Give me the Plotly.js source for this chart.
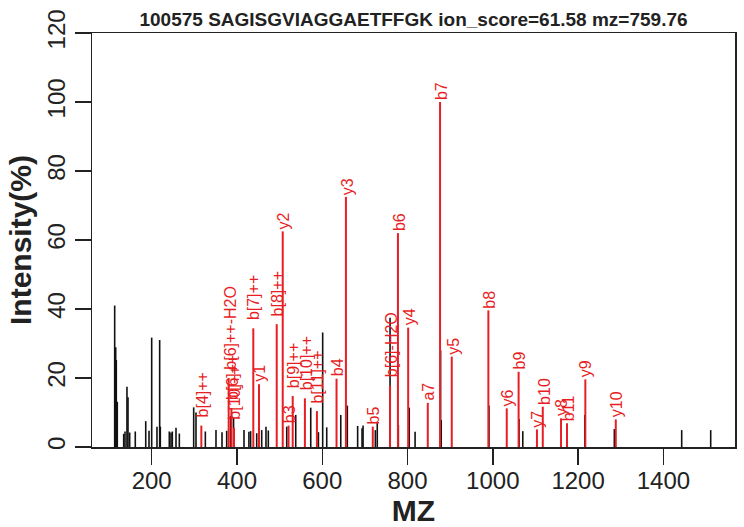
<!DOCTYPE html>
<html>
<head>
<meta charset="utf-8">
<script src="https://cdn.plot.ly/plotly-3.0.1.min.js"></script>
<style>html,body{margin:0;padding:0;background:#fff;}#chart{width:744px;height:527px;}</style>
</head>
<body>
<div id="chart"></div>
<script>
// Unmatched peaks (black)
const mzOther = [113.2,115.6,117.0,119.3,134.3,137.4,142.0,144.4,148.4,161.5,186.0,193.7,200.0,212.4,218.7,220.2,
  241.3,245.3,248.4,257.0,264.8,298.5,303.9,325.8,350.8,364.9,375.9,385.0,392.0,416.5,428.0,432.0,446.3,458.0,
  468.0,473.5,516.7,537.8,573.0,591.0,601.0,610.5,643.4,658.8,683.0,693.3,695.7,724.5,729.0,759.0,778.5,804.0,
  817.7,877.5,879.0,991.0,1061.6,1070.3,1215.7,1285.0,1443.0,1511.0];
const intOther = [41.0,28.9,25.2,13.1,3.8,4.5,17.5,14.4,4.2,4.5,7.5,4.7,31.7,5.9,31.0,5.9,
  4.5,4.2,4.5,5.6,3.9,11.5,10.0,4.5,4.9,4.3,4.7,9.0,8.4,4.9,4.4,4.6,4.0,4.9,
  5.9,4.8,5.9,9.3,11.4,4.3,33.2,5.7,9.3,12.0,6.1,5.4,6.2,4.9,7.3,37.5,6.4,11.4,
  4.4,28.0,7.8,12.0,8.1,4.6,9.3,5.2,4.9,4.9];

// Matched fragment ions (red)
const mzIon = [316.4,380.5,387.0,393.0,438.3,451.7,493.2,507.3,521.0,530.7,559.3,587.5,633.5,655.5,718.5,759.0,
  777.5,801.5,847.5,876.3,903.7,989.6,1032.7,1060.5,1103.5,1117.2,1160.0,1174.0,1217.0,1288.4];
const intIon = [6.2,20.0,11.3,5.6,34.4,18.2,35.6,62.5,6.2,14.8,14.1,10.4,19.8,72.5,5.9,17.8,
  62.0,34.6,12.8,100,26.2,39.6,11.2,21.8,5.1,11.7,8.3,6.9,19.6,8.0];
const ionLabels = ["b[4]++","b[6]++-H2O","b[6]++","b[10]++","b[7]++","y1","b[8]++","y2","b3","b[9]++","b[10]++","b[11]++",
  "b4","y3","b5","b[6]-H2O","b6","y4","a7","b7","y5","b8","y6","b9","y7","b10","y8","b11","y9","y10"];

const xTicks = [200,400,600,800,1000,1200,1400];
const yTicks = [0,20,40,60,80,100,120];
const titleText = "100575 SAGISGVIAGGAETFFGK ion_score=61.58 mz=759.76";

const RED = "rgb(232,30,37)";
const FONT = "Liberation Sans, Arial, Helvetica, sans-serif";

function stems(xs, ys) {
  const X = [], Y = [];
  xs.forEach((x, i) => { X.push(x, x, null); Y.push(0, ys[i], null); });
  return {X, Y};
}
const s1 = stems(mzOther, intOther);
const s2 = stems(mzIon, intIon);

const traces = [
  {type: "scatter", mode: "lines", x: s1.X, y: s1.Y, line: {color: "#111", width: 1.6}, hoverinfo: "skip", showlegend: false},
  {type: "scatter", mode: "lines", x: s2.X, y: s2.Y, line: {color: RED, width: 2}, hoverinfo: "skip", showlegend: false}
];

const annotations = mzIon.map((m, i) => ({
  x: m, y: intIon[i], xref: "x", yref: "y",
  text: ionLabels[i], showarrow: false, textangle: -90,
  xanchor: "center", yanchor: "bottom",
  yshift: ionLabels[i].includes("[") ? 8 : 2, xshift: 1,
  font: {family: FONT, size: 16, color: RED},
  borderpad: 0, borderwidth: 0
}));

const layout = {
  width: 744, height: 527,
  margin: {l: 92, r: 9, t: 33, b: 80},
  paper_bgcolor: "#fff", plot_bgcolor: "#fff",
  font: {family: FONT, color: "#222"},
  title: {text: "<b>" + titleText + "</b>", font: {family: FONT, size: 19, color: "#222"},
          x: 0.5, xref: "paper", y: 1 - 19 / 527, yref: "container", yanchor: "middle"},
  xaxis: {range: [60, 1568], tickvals: xTicks, ticktext: xTicks.map(String), ticks: "outside", ticklen: 16,
          tickwidth: 1.5, tickcolor: "#222", showline: true, linewidth: 1.5, linecolor: "#222", mirror: true,
          showgrid: false, zeroline: false, ticklabelstandoff: -4,
          tickfont: {family: FONT, size: 24, color: "#222"},
          title: {text: "<b>MZ</b>", font: {family: FONT, size: 30, color: "#222"}, standoff: 9}},
  yaxis: {range: [0, 120], tickvals: yTicks, ticktext: yTicks.map(String), tickangle: -90, ticks: "outside", ticklen: 16,
          tickwidth: 1.5, tickcolor: "#222", showline: true, linewidth: 1.5, linecolor: "#222", mirror: true,
          showgrid: false, zeroline: false, tickfont: {family: FONT, size: 24, color: "#222"},
          title: {text: "<b>Intensity(%)</b>", font: {family: FONT, size: 30, color: "#222"}, standoff: 2}},
  annotations: annotations,
  showlegend: false
};

Plotly.newPlot("chart", traces, layout, {displayModeBar: false, staticPlot: true});
</script>
</body>
</html>
